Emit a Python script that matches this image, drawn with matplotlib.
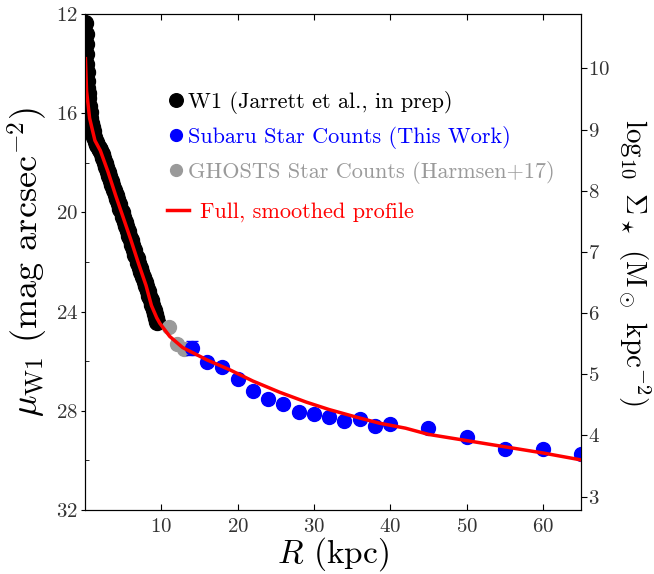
import matplotlib
matplotlib.use('Agg')
import matplotlib.pyplot as plt
from matplotlib.ticker import MultipleLocator

plt.rcParams.update({'font.family': 'serif', 'font.serif': ['cmr10'],
                     'mathtext.fontset': 'cm', 'axes.formatter.use_mathtext': True,
                     'axes.unicode_minus': False})

# W1 surface brightness profile (inner galaxy)
r_w1 = [0.05, 0.08, 0.11, 0.14, 0.17, 0.2, 0.25, 0.3, 0.35, 0.4, 0.5, 0.6, 0.7, 0.8,
        0.9, 1.0, 1.2, 1.4, 1.6, 1.8, 2.0, 2.2, 2.4, 2.6, 2.8, 3.0, 3.2, 3.4, 3.6, 3.8,
        4.0, 4.2, 4.4, 4.6, 4.8, 5.0, 5.2, 5.4, 5.6, 5.8, 6.0, 6.2, 6.4, 6.6, 6.8,
        7.0, 7.2, 7.4, 7.6, 7.8, 8.0, 8.2, 8.4, 8.6, 8.8, 9.0, 9.15, 9.3, 9.4]
mu_w1 = [12.35, 12.8, 13.2, 13.6, 14.0, 14.35, 14.7, 15.0, 15.2, 15.4, 15.7, 15.95,
         16.2, 16.4, 16.55, 16.7, 16.95, 17.15, 17.3, 17.4, 17.5, 17.65, 17.8, 18.0,
         18.15, 18.35, 18.55, 18.75, 18.9, 19.1, 19.3, 19.45, 19.65, 19.85, 20.0, 20.2,
         20.4, 20.55, 20.75, 20.95, 21.1, 21.3, 21.5, 21.7, 21.85, 22.05, 22.25, 22.4,
         22.6, 22.8, 22.95, 23.15, 23.35, 23.55, 23.75, 23.95, 24.1, 24.25, 24.4]

# Subaru star counts
r_subaru = [14, 16, 18, 20, 22, 24, 26, 28, 30, 32, 34, 36, 38, 40, 45, 50, 55, 60, 65]
mu_subaru = [25.48, 26.04, 26.22, 26.72, 27.19, 27.54, 27.73, 28.06, 28.14, 28.26,
             28.40, 28.33, 28.61, 28.52, 28.68, 29.07, 29.54, 29.53, 29.74]
err_subaru = [0.28, 0.12, 0.1, 0.1, 0.1, 0.1, 0.1, 0.1, 0.1, 0.1,
              0.1, 0.1, 0.1, 0.1, 0.1, 0.1, 0.1, 0.1, 0.1]

# GHOSTS star counts
r_ghosts = [11, 12, 13]
mu_ghosts = [24.6, 25.3, 25.5]

# full smoothed profile
r_prof = [0.05, 0.2, 0.6, 1.3, 2.0, 3.0, 4.0, 5.0, 6.0, 7.0, 8.0, 8.7, 9.4, 9.8, 11.1,
          12.8, 16, 19, 22, 25.5, 29, 32, 35.5, 38.6, 42, 45, 50, 55, 60, 65]
mu_prof = [13.8, 15.1, 16.2, 17.1, 17.5, 18.35, 19.3, 20.2, 21.1, 22.05, 22.95, 23.75,
           24.25, 24.47, 25.0, 25.45, 25.95, 26.35, 26.8, 27.25, 27.65, 27.95, 28.25,
           28.5, 28.7, 28.95, 29.2, 29.45, 29.7, 29.98]

grey = '#9a9a9a'
tick_col = '#333333'

fig = plt.figure(figsize=(6.54, 5.74), dpi=100)
ax = fig.add_axes([0.130, 0.1115, 0.7584, 0.864])

w1_line, = ax.plot(r_w1, mu_w1, 'o', color='k', ms=11.5, zorder=2)
gh_line, = ax.plot(r_ghosts, mu_ghosts, 'o', color=grey, ms=10, zorder=2)
sub = ax.errorbar(r_subaru, mu_subaru, yerr=err_subaru, fmt='o', color='blue', ms=10,
                  capsize=4, elinewidth=1.2, zorder=3)
prof_line, = ax.plot(r_prof, mu_prof, '-', color='red', lw=2.5, zorder=5)

ax.set_xlim(0, 65)
ax.set_ylim(32, 12)
ax.set_xticks([10, 20, 30, 40, 50, 60])
ax.set_yticks([12, 16, 20, 24, 28, 32])
ax.yaxis.set_minor_locator(MultipleLocator(2))
ax.tick_params(axis='x', which='both', direction='in', top=True, length=4,
               labelsize=15, labelcolor=tick_col, pad=6)
ax.tick_params(axis='y', which='major', direction='out', length=3,
               labelsize=15, labelcolor=tick_col, pad=2)
ax.tick_params(axis='y', which='minor', direction='in', length=3)

ax.set_xlabel(r'$R$ (kpc)', fontsize=24, labelpad=-1)
ax.set_ylabel(r'$\mu_{\rm W1}$ (mag arcsec$^{-2}$)', fontsize=26, labelpad=4)

ax2 = ax.twinx()
ax2.set_ylim(2.78, 10.89)
ax2.set_yticks(range(3, 11))
ax2.tick_params(axis='y', direction='out', length=4, labelsize=15,
                labelcolor=tick_col, pad=1)
ax2.set_ylabel(r'$\log_{10}\ \Sigma_\star$ (M$_\odot$ kpc$^{-2}$)', fontsize=21,
               rotation=270, va='bottom', labelpad=4)

leg1 = ax.legend([w1_line, sub[0], gh_line],
                 ['W1 (Jarrett et al., in prep)', 'Subaru Star Counts (This Work)',
                  'GHOSTS Star Counts (Harmsen+17)'],
                 labelcolor=['k', 'blue', grey],
                 loc='center left', bbox_to_anchor=(168 / 654, 1 - 137.5 / 574),
                 bbox_transform=fig.transFigure, frameon=False, fontsize=16,
                 handlelength=0.72, handletextpad=0.18, labelspacing=0.55,
                 borderpad=0, borderaxespad=0, numpoints=1, markerscale=0.85)
ax.add_artist(leg1)
ax.legend([prof_line], ['Full, smoothed profile'], labelcolor='red',
          loc='center left', bbox_to_anchor=(167 / 654, 1 - 211.7 / 574),
          bbox_transform=fig.transFigure, frameon=False, fontsize=16,
          handlelength=1.0, handletextpad=0.5, borderpad=0, borderaxespad=0)

fig.savefig('out.png', dpi=100)
